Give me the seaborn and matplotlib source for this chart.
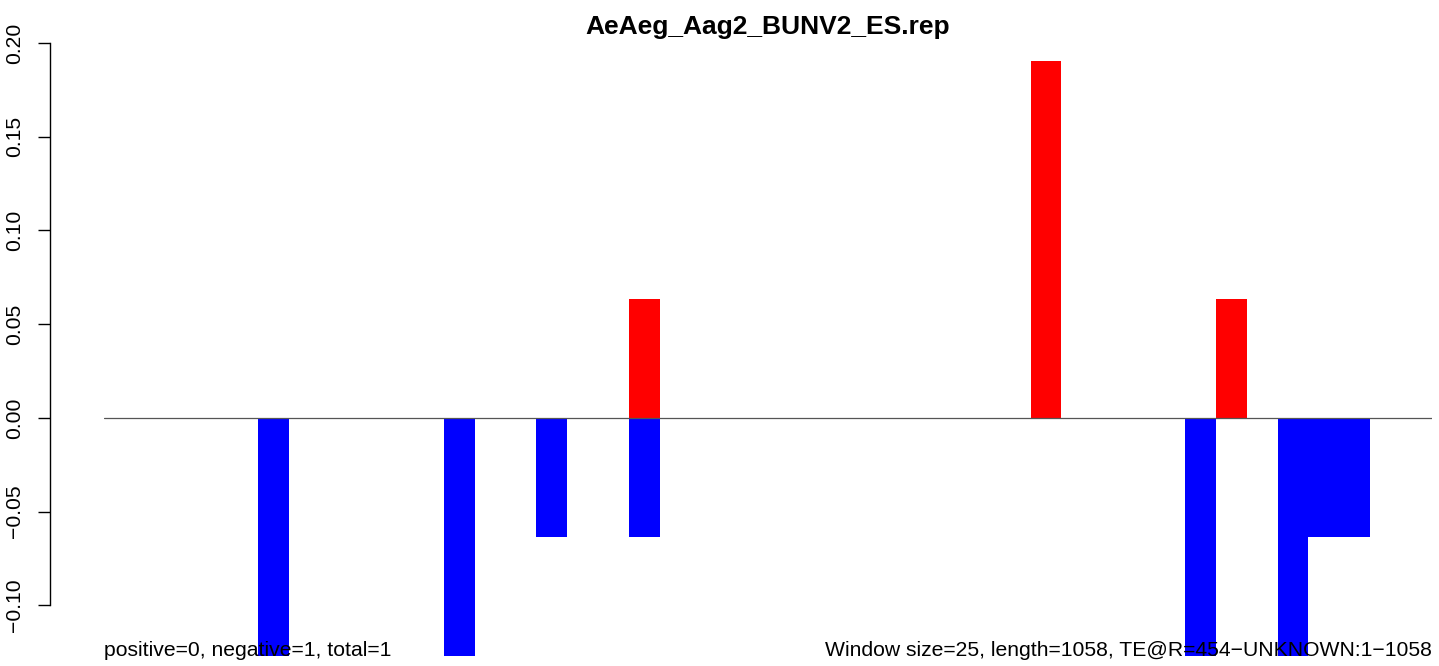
"""
Window bar plot of positive / negative strand signal for one TE record.
"""

import numpy as np
import pandas as pd
import matplotlib
matplotlib.use("Agg")
import matplotlib.pyplot as plt
import seaborn as sns

# Data: 43 windows (length 1058, window size 25)
n_windows = 43
windows = list(range(n_windows))
pos_windows = [17, 30, 36]
pos_values = [0.0635, 0.1905, 0.0635]
neg_windows = [5, 11, 14, 17, 35, 38, 39, 40]
neg_values = [-0.127, -0.127, -0.0635, -0.0635, -0.127, -0.127, -0.0635, -0.0635]

title = "AeAeg_Aag2_BUNV2_ES.rep"
left_note = "positive=0, negative=1, total=1"
right_note = "Window size=25, length=1058, TE@R=454\u2212UNKNOWN:1\u22121058"
y_ticks = [-0.10, -0.05, 0.00, 0.05, 0.10, 0.15, 0.20]

pos = np.zeros(n_windows)
pos[pos_windows] = pos_values
neg = np.zeros(n_windows)
neg[neg_windows] = neg_values
df = pd.DataFrame({"window": windows, "positive": pos, "negative": neg})

sns.set_style("white")
plt.rcParams["font.family"] = ["Liberation Sans", "DejaVu Sans"]
plt.rcParams["text.color"] = "black"

W, H = 1439, 666
fs = 15.2
fig = plt.figure(figsize=(W / 100, H / 100), dpi=100)
ax = fig.add_axes([104 / W, (H - 656) / H, 1328 / W, 613 / H])

sns.barplot(data=df, x="window", y="positive", order=windows, color="#ff0000",
            width=1.0, saturation=1, linewidth=0, ax=ax)
sns.barplot(data=df, x="window", y="negative", order=windows, color="#0000ff",
            width=1.0, saturation=1, linewidth=0, ax=ax)

ax.axhline(0, color="#555555", linewidth=0.9, zorder=3)

ax.set_xlim(-0.5, n_windows - 0.5)
ax.set_ylim(-0.127, 0.2)
ax.set_xlabel("")
ax.set_ylabel("")
ax.set_xticks([])

# R-like y axis
for side in ["top", "right", "bottom"]:
    ax.spines[side].set_visible(False)
ax.spines["left"].set_position(("outward", 54 * 0.72))
ax.spines["left"].set_bounds(-0.10, 0.20)
ax.spines["left"].set_linewidth(1.0)
ax.spines["left"].set_color("black")
ax.set_yticks(y_ticks)
ax.set_yticklabels([f"{v:.2f}".replace("-", "\u2212") for v in y_ticks],
                   rotation=90, va="center", fontsize=fs, color="black")
ax.tick_params(axis="y", direction="out", length=12 * 0.72, width=1.0,
               pad=14 * 0.72, color="black", left=True)

fig.text(768 / W, 1 - 34 / H, title, ha="center", va="baseline",
         fontsize=19, fontweight="bold")

fig.text(104 / W, 1 - 656 / H, left_note, ha="left", va="baseline", fontsize=fs)
fig.text(1432 / W, 1 - 656 / H, right_note, ha="right", va="baseline", fontsize=fs)

plt.savefig("out.png", dpi=100)
